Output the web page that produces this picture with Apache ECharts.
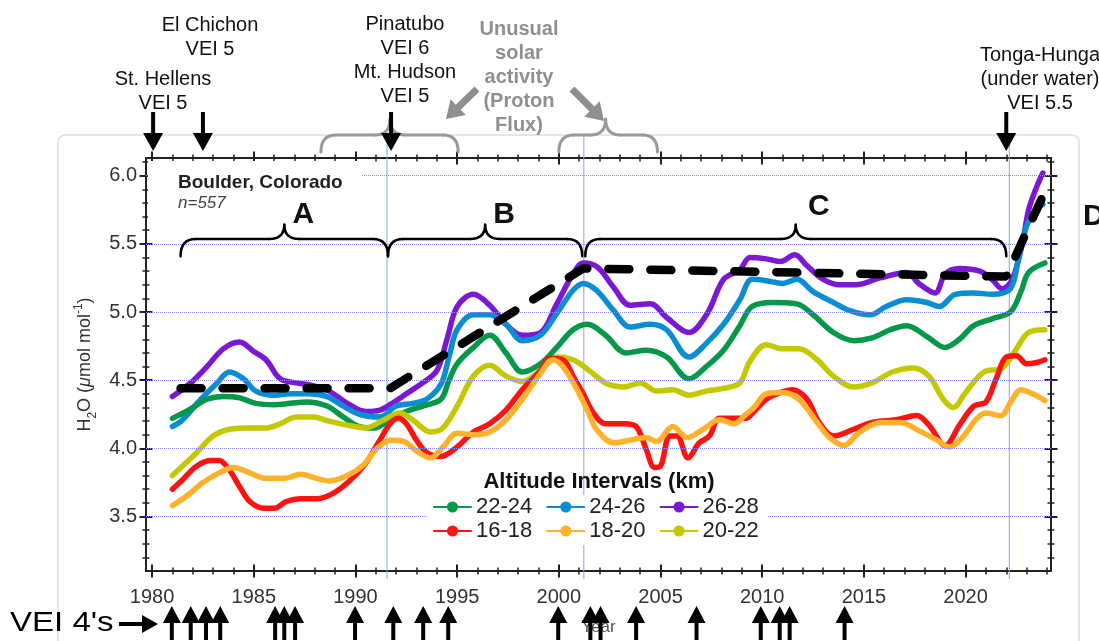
<!DOCTYPE html>
<html><head><meta charset="utf-8">
<script src="https://cdn.jsdelivr.net/npm/echarts@6/dist/echarts.min.js"></script>
<style>html,body{margin:0;padding:0;background:#fff}#c{width:1099px;height:641px}</style>
</head><body><div id="c"></div>
<script>
// ---------------- DATA ----------------
const seriesNames = ['22-24','24-26','26-28','16-18','18-20','20-22'];
const seriesColors = {'22-24':'#05984a','24-26':'#0a8dd2','26-28':'#7a18d4','16-18':'#ff1212','18-20':'#ffb12c','20-22':'#c4c800'};

const h2o_26_28 = [[1981.0,4.38],[1981.9,4.48],[1982.7,4.60],[1983.5,4.73],[1984.3,4.78],[1985.0,4.71],[1985.6,4.65],[1986.3,4.51],[1987.1,4.48],[1987.9,4.46],[1988.7,4.42],[1989.6,4.33],[1990.5,4.27],[1991.2,4.28],[1991.9,4.34],[1992.5,4.40],[1993.3,4.48],[1994.0,4.57],[1994.5,4.80],[1995.0,5.04],[1995.8,5.13],[1996.6,5.05],[1997.4,4.91],[1998.2,4.83],[1999.1,4.85],[1999.9,5.06],[2000.7,5.28],[2001.2,5.36],[2001.9,5.33],[2002.7,5.18],[2003.5,5.05],[2004.5,5.06],[2005.3,4.96],[2006.4,4.85],[2007.3,4.99],[2008.1,5.24],[2008.9,5.31],[2009.4,5.40],[2010.2,5.39],[2010.9,5.37],[2011.6,5.42],[2012.2,5.34],[2013.0,5.24],[2013.8,5.20],[2014.6,5.20],[2015.8,5.25],[2017.1,5.29],[2017.7,5.21],[2018.5,5.14],[2019.0,5.28],[2019.7,5.32],[2020.7,5.30],[2021.3,5.24],[2021.8,5.17],[2022.3,5.24],[2022.8,5.51],[2023.1,5.75],[2023.5,5.92],[2023.8,6.02]];
const h2o_24_26 = [[1981.0,4.16],[1981.5,4.21],[1982.4,4.36],[1983.2,4.48],[1983.8,4.56],[1984.5,4.51],[1985.1,4.42],[1986.0,4.39],[1986.8,4.40],[1987.6,4.40],[1988.6,4.38],[1989.4,4.31],[1990.2,4.25],[1991.2,4.23],[1992.0,4.31],[1992.8,4.33],[1993.5,4.36],[1994.2,4.47],[1994.6,4.67],[1995.0,4.87],[1995.8,4.98],[1996.6,4.98],[1997.4,4.91],[1998.2,4.79],[1999.1,4.83],[1999.9,4.99],[2000.7,5.16],[2001.2,5.21],[2001.85,5.16],[2002.7,5.01],[2003.5,4.89],[2004.5,4.91],[2005.3,4.87],[2006.4,4.67],[2007.25,4.77],[2008.1,4.91],[2008.9,5.09],[2009.5,5.24],[2010.2,5.23],[2011.0,5.21],[2011.7,5.24],[2012.5,5.15],[2013.5,5.07],[2014.3,5.01],[2015.3,4.98],[2016.1,5.04],[2017.1,5.09],[2018.1,5.07],[2018.7,5.04],[2019.5,5.13],[2020.4,5.14],[2021.3,5.13],[2022.2,5.17],[2022.6,5.39],[2023.0,5.63],[2023.5,5.75],[2023.8,5.79]];
const h2o_22_24 = [[1981.0,4.22],[1981.9,4.29],[1982.7,4.36],[1983.5,4.38],[1984.3,4.37],[1985.1,4.33],[1986.0,4.32],[1986.8,4.33],[1987.6,4.34],[1988.6,4.31],[1989.4,4.23],[1990.2,4.16],[1990.9,4.15],[1991.7,4.21],[1992.5,4.27],[1993.3,4.31],[1994.2,4.36],[1994.6,4.50],[1995.0,4.62],[1995.8,4.74],[1996.6,4.83],[1997.4,4.70],[1998.2,4.56],[1999.1,4.62],[1999.9,4.74],[2000.7,4.87],[2001.4,4.91],[2002.3,4.83],[2003.3,4.70],[2004.3,4.72],[2005.3,4.67],[2006.4,4.51],[2007.25,4.60],[2008.1,4.72],[2008.9,4.90],[2009.5,5.04],[2010.5,5.07],[2011.7,5.06],[2012.5,4.98],[2013.5,4.85],[2014.5,4.79],[2015.4,4.81],[2016.3,4.87],[2017.1,4.90],[2018.1,4.82],[2019.0,4.74],[2019.7,4.80],[2020.4,4.90],[2021.3,4.95],[2022.2,5.00],[2022.7,5.14],[2023.1,5.29],[2023.9,5.36]];
const h2o_20_22 = [[1981.0,3.80],[1981.5,3.87],[1982.2,3.97],[1983.0,4.09],[1983.8,4.14],[1984.8,4.15],[1985.6,4.15],[1986.3,4.18],[1987.1,4.23],[1987.9,4.23],[1988.7,4.20],[1989.6,4.17],[1990.5,4.15],[1991.4,4.21],[1992.2,4.26],[1992.8,4.21],[1993.7,4.12],[1994.3,4.15],[1995.0,4.31],[1995.8,4.53],[1996.6,4.61],[1997.4,4.53],[1998.2,4.49],[1999.1,4.57],[1999.9,4.67],[2000.7,4.65],[2001.5,4.57],[2002.3,4.48],[2003.2,4.45],[2004.0,4.48],[2004.8,4.42],[2005.6,4.43],[2006.4,4.39],[2007.25,4.42],[2008.1,4.44],[2008.9,4.48],[2009.4,4.64],[2010.2,4.76],[2011.0,4.73],[2011.8,4.73],[2012.7,4.65],[2013.5,4.53],[2014.5,4.45],[2015.4,4.48],[2016.4,4.56],[2017.4,4.59],[2018.2,4.53],[2018.9,4.36],[2019.4,4.30],[2020.0,4.41],[2020.9,4.56],[2021.8,4.59],[2022.5,4.73],[2023.1,4.85],[2023.9,4.87]];
const h2o_16_18 = [[1981.0,3.70],[1981.5,3.77],[1982.2,3.87],[1982.9,3.91],[1983.3,3.91],[1983.8,3.84],[1984.3,3.72],[1984.8,3.61],[1985.5,3.56],[1986.0,3.56],[1986.6,3.61],[1987.3,3.63],[1988.1,3.63],[1988.9,3.67],[1989.7,3.76],[1990.5,3.89],[1991.2,4.06],[1991.7,4.18],[1992.1,4.22],[1992.5,4.18],[1993.0,4.06],[1993.5,3.97],[1994.2,3.94],[1995.0,4.01],[1995.8,4.12],[1996.6,4.18],[1997.4,4.28],[1998.2,4.43],[1999.1,4.57],[1999.55,4.66],[2000.2,4.65],[2000.7,4.53],[2001.2,4.40],[2001.7,4.26],[2002.3,4.18],[2003.2,4.18],[2003.8,4.16],[2004.3,3.99],[2004.7,3.86],[2005.0,3.87],[2005.45,4.09],[2005.8,4.09],[2006.35,3.93],[2006.9,4.04],[2007.4,4.09],[2007.9,4.22],[2008.6,4.22],[2009.2,4.22],[2009.6,4.27],[2010.2,4.36],[2010.9,4.41],[2011.5,4.43],[2012.2,4.36],[2012.8,4.19],[2013.5,4.09],[2014.5,4.14],[2015.4,4.19],[2016.6,4.21],[2017.6,4.24],[2018.2,4.17],[2019.0,4.02],[2019.7,4.17],[2020.4,4.31],[2021.0,4.34],[2021.5,4.51],[2022.0,4.67],[2022.5,4.68],[2023.0,4.62],[2023.5,4.63],[2023.9,4.65]];
const h2o_18_20 = [[1981.0,3.58],[1981.7,3.65],[1982.5,3.75],[1983.3,3.82],[1984.0,3.86],[1984.8,3.82],[1985.6,3.78],[1986.5,3.78],[1987.3,3.81],[1988.1,3.78],[1988.7,3.76],[1989.6,3.80],[1990.4,3.88],[1991.0,3.99],[1991.7,4.06],[1992.4,4.05],[1993.0,3.98],[1993.7,3.93],[1994.3,4.01],[1995.0,4.11],[1995.8,4.10],[1996.6,4.12],[1997.4,4.21],[1998.2,4.36],[1999.1,4.55],[1999.7,4.65],[2000.2,4.60],[2000.9,4.43],[2001.4,4.28],[2001.85,4.14],[2002.7,4.04],[2003.5,4.06],[2004.3,4.08],[2004.8,4.05],[2005.6,4.16],[2006.3,4.08],[2007.1,4.14],[2007.9,4.21],[2008.6,4.18],[2009.2,4.25],[2009.6,4.30],[2010.2,4.40],[2011.0,4.41],[2011.8,4.36],[2012.7,4.19],[2013.3,4.08],[2014.0,4.02],[2014.8,4.12],[2015.8,4.19],[2016.8,4.19],[2017.7,4.13],[2018.6,4.06],[2019.2,4.01],[2019.9,4.09],[2020.5,4.21],[2021.0,4.26],[2021.7,4.24],[2022.3,4.36],[2022.7,4.43],[2023.3,4.40],[2023.9,4.35]];
const trendLine = [[1981.4,4.44],[1991.7,4.44],[2001.2,5.32],[2022.0,5.26],[2024.1,5.95]];

const xLabelYears = [1980,1985,1990,1995,2000,2005,2010,2015,2020];
const yLabelValues = [3.5,4.0,4.5,5.0,5.5,6.0];
const periodLines = [1991.55, 2001.23, 2022.15];
const periodBraces = [['A',1981.4,1991.6],['B',1991.6,2001.15],['C',2001.3,2022.0]];
const solarBraces = [[1988.3,1995.05,1991.7],[2000.0,2004.85,2002.3]];
const majorEruptions = [
  {text:'St. Hellens\nVEI 5', year:1980.05, labelX:163, labelY:91},
  {text:'El Chichon\nVEI 5', year:1982.5, labelX:210, labelY:37},
  {text:'Pinatubo\nVEI 6\nMt. Hudson\nVEI 5', year:1991.75, labelX:405, labelY:60},
  {text:'Tonga-Hunga\n(under water)\nVEI 5.5', year:2022.0, labelX:1040, labelY:79}
];
const vei4Years = [1980.97,1981.9,1982.65,1983.35,1986.05,1986.5,1987.03,1989.98,1991.86,1993.33,1994.56,1999.97,2001.55,2002.05,2003.8,2006.77,2009.93,2010.86,2011.35,2014.05];

// ---------------- AXES ----------------
const X_MIN = 1979.7, X_MAX = 2024.2, Y_MIN = 3.1, Y_MAX = 6.13;
const xMinor = []; for (let y = 1980; y <= 2024; y++) xMinor.push(y);
const yMinor = []; for (let i = 32; i <= 61; i++) yMinor.push(i / 10);
const FONT = '"Liberation Sans", Arial, Helvetica, sans-serif';
const AX = '#222';

function baseAx(kind, pos, extra) {
  const a = {type:'value', position:pos, min: kind==='x'?X_MIN:Y_MIN, max: kind==='x'?X_MAX:Y_MAX,
    splitLine:{show:false}, axisLine:{show:false, onZero:false}, axisLabel:{show:false}, axisTick:{show:false}};
  return Object.assign(a, extra);
}
function tickAx(kind, pos, vals, len, w) {
  return baseAx(kind, pos, {offset: len/2, axisTick:{show:true, inside:true, length:len, customValues: vals, lineStyle:{color:AX, width:w}}});
}
const xAxes = [
  baseAx('x','bottom',{axisLine:{show:true,onZero:false,lineStyle:{color:AX,width:2}},
    axisLabel:{show:true, customValues:xLabelYears, formatter:v=>String(Math.round(v)), fontSize:20, color:'#333', margin:16, fontFamily:FONT},
    name:'Year', nameLocation:'middle', nameGap:48, nameTextStyle:{fontSize:17, color:'#555', fontFamily:FONT}}),
  tickAx('x','bottom',xLabelYears,13,2),
  tickAx('x','bottom',xMinor,7,1.5),
  baseAx('x','top',{axisLine:{show:true,onZero:false,lineStyle:{color:AX,width:2}}}),
  tickAx('x','top',xLabelYears,13,2),
  tickAx('x','top',xMinor,7,1.5)
];
const yAxes = [
  baseAx('y','left',{axisLine:{show:true,onZero:false,lineStyle:{color:AX,width:2}},
    axisLabel:{show:true, customValues:yLabelValues, formatter:v=>v.toFixed(1), fontSize:20, color:'#333', margin:9, fontFamily:FONT},
    name:'H{sub|2}O ({it|μ}mol mol{sup|-1})', nameLocation:'middle', nameGap:47, nameRotate:90,
    nameTextStyle:{fontSize:18, color:'#333', fontFamily:FONT, lineHeight:26,
      rich:{sub:{fontSize:12, verticalAlign:'bottom', lineHeight:26, fontFamily:FONT, color:'#333'},
            sup:{fontSize:12, verticalAlign:'top', lineHeight:26, fontFamily:FONT, color:'#333'},
            it:{fontSize:18, fontStyle:'italic', fontFamily:FONT, color:'#333', lineHeight:26}}}}),
  tickAx('y','left',yLabelValues,13,2),
  tickAx('y','left',yMinor,7,1.5),
  baseAx('y','right',{axisLine:{show:true,onZero:false,lineStyle:{color:AX,width:2}}}),
  tickAx('y','right',yLabelValues,13,2),
  tickAx('y','right',yMinor,7,1.5)
];

function lineSeries(name, data, z) {
  return {name, type:'line', data, xAxisIndex:0, yAxisIndex:0, smooth:0.35, showSymbol:false,
    symbol:'circle', symbolSize:9, z,
    lineStyle:{color:seriesColors[name], width:5.5, cap:'round', join:'round'},
    itemStyle:{color:seriesColors[name]}};
}

const option = {
  animation:false,
  backgroundColor:'#fff',
  grid:{left:146, right:48, top:158, bottom:69, containLabel:false},
  xAxis:xAxes, yAxis:yAxes,
  legend:[
    {data:['22-24','24-26','26-28'], left:433, top:496, padding:0, itemWidth:37, itemHeight:14, itemGap:14,
     textStyle:{fontSize:22, color:'#222', fontFamily:FONT}, selectedMode:false, z:20},
    {data:['16-18','18-20','20-22'], left:433, top:520, padding:0, itemWidth:37, itemHeight:14, itemGap:14,
     textStyle:{fontSize:22, color:'#222', fontFamily:FONT}, selectedMode:false, z:20}
  ],
  series:[
    lineSeries('26-28', h2o_26_28, 3),
    lineSeries('24-26', h2o_24_26, 3),
    lineSeries('22-24', h2o_22_24, 3),
    lineSeries('20-22', h2o_20_22, 3),
    lineSeries('16-18', h2o_16_18, 3),
    lineSeries('18-20', h2o_18_20, 3),
    {name:'trend', type:'line', data:trendLine, showSymbol:false, smooth:false, z:6,
     lineStyle:{color:'#000', width:8.5, type:[21,21], cap:'round'}},
    {name:'grid', type:'line', data:[], z:1, silent:true,
     markLine:{silent:true, symbol:'none', label:{show:false}, animation:false,
       lineStyle:{type:'dotted', color:'#8c8cf5', width:1}, data: yLabelValues.map(v=>({yAxis:v}))}}
  ]
};

const chart = echarts.init(document.getElementById('c'));
chart.setOption(option);

// ---------------- ANNOTATIONS (positioned from data via the axes) ----------------
const X = yr => chart.convertToPixel({seriesIndex:0}, [yr, 4])[0];
const Y = v => chart.convertToPixel({seriesIndex:0}, [2000, v])[1];
const g = [];
function txt(text, x, y, o) {
  const el = {type:'text', x, y, z:o.z||30, silent:true, style:Object.assign({text, fontFamily:FONT, fill:'#000', fontSize:20,
    align:'center', verticalAlign:'middle', lineHeight:24}, o.style||{})};
  if (o.scaleX) el.scaleX = o.scaleX;
  g.push(el);
}
function brace(x1, x2, xc, yEnd, yLine, yTip, color, w, z) {
  const r = 15;
  const segs = [
    {type:'bezierCurve', shape:{x1:x1,y1:yEnd,cpx1:x1,cpy1:yLine,x2:x1+r,y2:yLine}},
    {type:'line', shape:{x1:x1+r,y1:yLine,x2:xc-r,y2:yLine}},
    {type:'bezierCurve', shape:{x1:xc-r,y1:yLine,cpx1:xc,cpy1:yLine,x2:xc,y2:yTip}},
    {type:'bezierCurve', shape:{x1:xc,y1:yTip,cpx1:xc,cpy1:yLine,x2:xc+r,y2:yLine}},
    {type:'line', shape:{x1:xc+r,y1:yLine,x2:x2-r,y2:yLine}},
    {type:'bezierCurve', shape:{x1:x2-r,y1:yLine,cpx1:x2,cpy1:yLine,x2:x2,y2:yEnd}}
  ];
  segs.forEach(s => g.push(Object.assign(s, {z:z||25, silent:true, style:{stroke:color, lineWidth:w, fill:null, lineCap:'round'}})));
}
function vArrow(x, tipY, tailY, hw, hh, sw) {
  const d = tailY > tipY ? 1 : -1;
  const ny = tipY + d*hh;
  g.push({type:'polygon', z:30, silent:true, shape:{points:[
    [x-sw/2,tailY],[x+sw/2,tailY],[x+sw/2,ny],[x+hw/2,ny],[x,tipY],[x-hw/2,ny],[x-sw/2,ny]]}, style:{fill:'#000'}});
}
function dArrow(x1,y1,x2,y2,hw,hh,sw,color) {
  const L = Math.hypot(x2-x1,y2-y1), ux=(x2-x1)/L, uy=(y2-y1)/L, nx=-uy, ny=ux;
  const bx = x2-ux*hh, by = y2-uy*hh;
  g.push({type:'polygon', z:30, silent:true, shape:{points:[
    [x1+nx*sw/2,y1+ny*sw/2],[bx+nx*sw/2,by+ny*sw/2],[bx+nx*hw/2,by+ny*hw/2],[x2,y2],
    [bx-nx*hw/2,by-ny*hw/2],[bx-nx*sw/2,by-ny*sw/2],[x1-nx*sw/2,y1-ny*sw/2]]}, style:{fill:color}});
}

const gTop = Y(Y_MAX), gBot = Y(Y_MIN);
// light panel frame
g.push({type:'rect', z:0, silent:true, shape:{x:58, y:135, width:1021, height:530, r:7}, style:{fill:null, stroke:'#dedede', lineWidth:1.5}});
// white boxes hiding grid lines behind the station label and legend
g.push({type:'rect', z:8, silent:true, shape:{x:148, y:161, width:214, height:58}, style:{fill:'#fff'}});
g.push({type:'rect', z:8, silent:true, shape:{x:428, y:495, width:340, height:50}, style:{fill:'#fff'}});
// vertical period lines
periodLines.forEach(yr => g.push({type:'line', z:2, silent:true, shape:{x1:X(yr), y1:gTop-22, x2:X(yr), y2:gBot+8}, style:{stroke:'#7fa9dc', lineWidth:1}}));
// station label
txt('Boulder, Colorado', 178, Y(5.95), {style:{align:'left', fontSize:19, fontWeight:'bold', fill:'#222'}});
txt('n=557', 178, Y(5.8), {style:{align:'left', fontSize:17, fontStyle:'italic', fill:'#444'}});
// period braces & letters
periodBraces.forEach(([lab, a, b], i) => {
  const x1 = X(a), x2 = X(b), xc = (x1+x2)/2;
  brace(x1, x2, xc, Y(5.41), Y(5.535), Y(5.64), '#000', 2.5, 25);
  txt(lab, xc + 19 + (i===2?4:0), Y(i===2?5.77:5.715), {style:{fontSize:30, fontWeight:'bold', fill:'#111'}});
});
txt('D', 1083, Y(5.7), {style:{align:'left', fontSize:30, fontWeight:'bold', fill:'#111'}});
// legend title
txt('Altitude Intervals (km)', 599, 482, {style:{fontSize:22, fontWeight:'bold', fill:'#111'}});
// major eruptions
majorEruptions.forEach(e => {
  txt(e.text, e.labelX, e.labelY, {style:{fontSize:20, fill:'#111', lineHeight:24}});
  vArrow(X(e.year), 151, 112, 20, 18, 4);
});
// solar activity annotation
txt('Unusual\nsolar\nactivity\n(Proton\nFlux)', 519, 77, {style:{fontSize:20, fontWeight:'bold', fill:'#8f8f8f', lineHeight:24}});
solarBraces.forEach(([a,b,c]) => brace(X(a), X(b), X(c), 152, 135, 119, '#9a9a9a', 3, 24));
dArrow(477, 89, 446, 119, 22, 17, 7, '#8f8f8f');
dArrow(572, 89, 604, 121, 22, 17, 7, '#8f8f8f');
// VEI 4 eruptions
vei4Years.forEach(yr => vArrow(X(yr), 606, 640, 18, 17, 4));
txt("VEI 4's", 10, 623, {style:{align:'left', fontSize:28, fill:'#000'}, scaleX:1.18});
g.push({type:'polygon', z:30, silent:true, shape:{points:[[119,622],[142,622],[142,615],[158,624],[142,633],[142,626],[119,626]]}, style:{fill:'#000'}});

chart.setOption({graphic:{elements:g}});
</script>
</body></html>
